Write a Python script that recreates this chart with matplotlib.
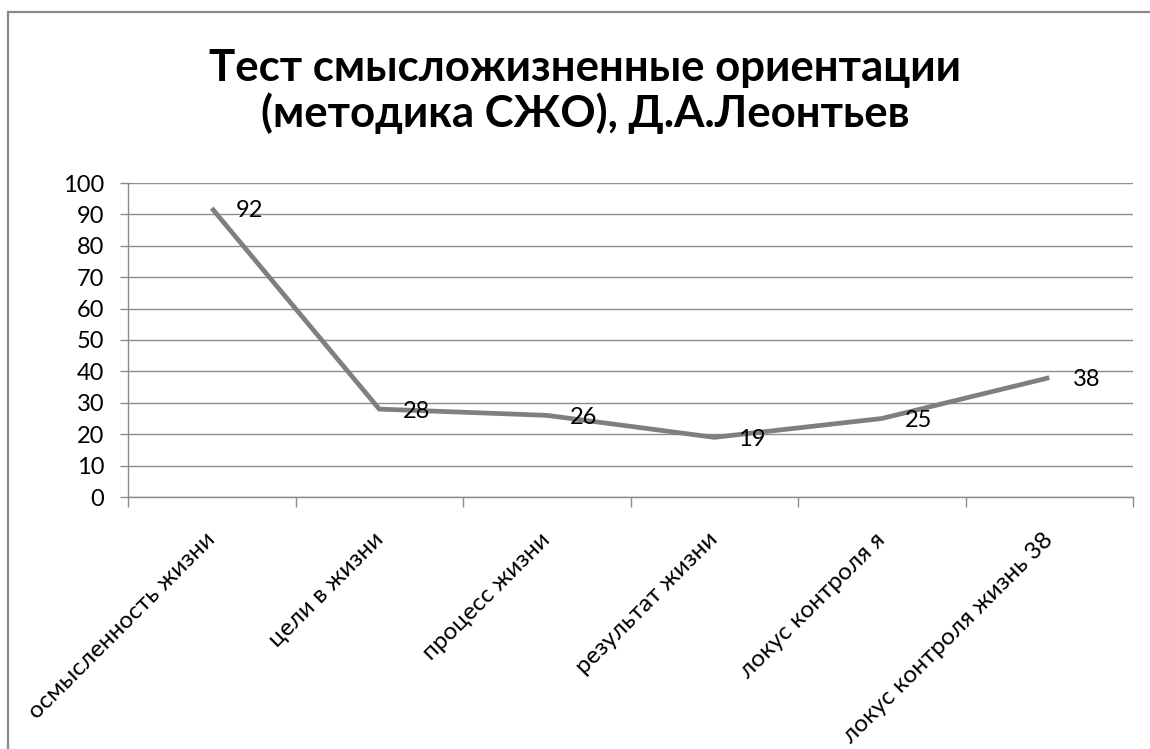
import matplotlib
matplotlib.use("Agg")
import matplotlib.pyplot as plt
from matplotlib.patches import Rectangle
import matplotlib.transforms as mtransforms

categories = ["осмысленность жизни", "цели в жизни", "процесс жизни",
              "результат жизни", "локус контроля я", "локус контроля жизнь 38"]
values = [92, 28, 26, 19, 25, 38]
yticks = [0, 10, 20, 30, 40, 50, 60, 70, 80, 90, 100]
title = "Тест смысложизненные ориентации\n(методика СЖО), Д.А.Леонтьев"

plt.rcParams['font.family'] = ['Lato', 'DejaVu Sans']

W, H = 1150, 749
fig = plt.figure(figsize=(W / 100, H / 100), dpi=100)

# outer chart frame
fig.patches.append(Rectangle((8 / W, -0.1), 1.2, (1 - 12 / H) + 0.1,
                             transform=fig.transFigure, fill=False,
                             edgecolor="#898989", linewidth=1.6))

left, right, top, bottom = 128, 1133, 183, 497
ax = fig.add_axes([left / W, 1 - bottom / H, (right - left) / W, (bottom - top) / H])

x = list(range(len(categories)))
ax.plot(x, values, color="#7f7f7f", linewidth=3.4, solid_joinstyle="round",
        solid_capstyle="butt", zorder=3)

for xi, v in zip(x, values):
    ax.annotate(str(v), (xi, v), xytext=(17, -1.5), textcoords="offset points",
                ha="left", va="center", fontsize=17, color="black", zorder=4)

ax.set_xlim(-0.5, len(categories) - 0.5)
ax.set_ylim(0, 100)
ax.set_yticks(yticks)
ax.set_yticklabels([str(t) for t in yticks], fontsize=17)
ax.yaxis.grid(True, color="#8c8c8c", linewidth=1.0)
ax.set_axisbelow(True)

for s in ["top", "right"]:
    ax.spines[s].set_visible(False)
for s in ["left", "bottom"]:
    ax.spines[s].set_color("#8c8c8c")
    ax.spines[s].set_linewidth(1.0)

ax.tick_params(axis="y", length=6, width=1.0, color="#8c8c8c", pad=11)
ax.set_xticks(x)
ax.set_xticklabels(categories, rotation=45, ha="right", rotation_mode="anchor",
                   fontsize=17.5)
ax.tick_params(axis="x", which="major", length=0, pad=23)
shift = mtransforms.ScaledTranslation(-7 / 100, 0, fig.dpi_scale_trans)
for lbl in ax.get_xticklabels():
    lbl.set_transform(lbl.get_transform() + shift)
ax.set_xticks([i - 0.5 for i in range(len(categories) + 1)], minor=True)
ax.tick_params(axis="x", which="minor", length=7, width=1.0, color="#8c8c8c")

fig.text(585 / W, 1 - 91 / H, title, ha="center", va="center", fontsize=31.5,
         fontweight="bold", linespacing=1.15)

fig.savefig("out.png", dpi=100)
